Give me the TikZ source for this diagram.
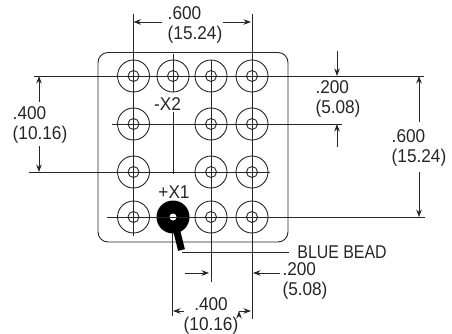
\documentclass[tikz,border=0pt]{standalone}
\usepackage{fontspec}
\setmainfont{Liberation Sans}
\usetikzlibrary{arrows.meta}

\tikzset{
    hole/.style={circle, draw, minimum size=32pt, inner sep=0pt},
    bore/.style={circle, draw, minimum size=11pt, inner sep=0pt},
    dimtext/.style={inner sep=0pt, xscale=0.93, align=left, font=\fontsize{18.5}{20}\selectfont},
    marktext/.style={inner sep=0pt, xscale=0.93, font=\fontsize{18.5}{20}\selectfont},
    leader/.style={draw, line width=0.8pt},
    dimarrow/.style={draw, line width=0.8pt, -{Stealth[length=7.5pt,width=5.5pt]}}
}

\begin{document}
\begin{tikzpicture}[x=1pt,y=-1pt,line width=0.9pt,color=black!85]

        \useasboundingbox (0,0) rectangle (452,334);

        \draw[rounded corners=10pt] (98,52.5) rectangle (288,242);

        % holes
        \foreach \name/\px/\py in {aa/133.5/76, ab/173/76, ac/211/76, ad/252/76,
                                   ba/133.5/124, bc/211/124, bd/252/124,
                                   ca/133.5/172, cc/211/172, cd/252/172,
                                   da/133.5/217, dc/211/217, dd/252/217}{
            \node[hole] (\name) at (\px,\py) {};
            \node[bore] (\name b) at (\px,\py) {};
        }

        % bead
        \node[circle, fill=black, minimum size=33pt, inner sep=0pt] (bead) at (173,217) {};
        \node[circle, fill=white, minimum size=7pt, inner sep=0pt] (beadb) at (173,217) {};

        % leader ends
        \coordinate (r1l) at (34,76);     \coordinate (r1r) at (424,76);
        \coordinate (r2l) at (112,124);   \coordinate (r2r) at (342,124);
        \coordinate (r3l) at (29,172);    \coordinate (r3r) at (270,172);
        \coordinate (r4l) at (107,217);   \coordinate (r4r) at (425,217);
        \coordinate (c1t) at (133.5,14);  \coordinate (c1b) at (133.5,236);
        \coordinate (c2t) at (173,54);    \coordinate (c2b) at (173,92);
        \coordinate (c3t) at (211,60);    \coordinate (c3b) at (211,282);
        \coordinate (c4t) at (252,14);    \coordinate (c4b) at (252,319);
        \coordinate (x2t) at (173,112);   \coordinate (x2b) at (173,174);
        \coordinate (btm) at (172.3,232); \coordinate (bbm) at (172.3,316);
        \coordinate (wa) at (177,232);    \coordinate (wb) at (181.5,250);
        \coordinate (wc) at (182,252.5);  \coordinate (wd) at (289,252.5);

        \path[leader]
        (r1l) -- (r1r)
        (r2l) -- (r2r)
        (r3l) -- (r3r)
        (r4l) -- (r4r)
        (c1t) -- (c1b)
        (c2t) -- (c2b)
        (c3t) -- (c3b)
        (c4t) -- (c4b)
        (x2t) -- (x2b)
        (btm) -- (bbm)
        (wc) -- (wd)
        ;
        \draw[line width=7pt, color=black] (wa) -- (wb);

        % labels
        \node[marktext] (xtwo) at (167.5,104) {-X2};
        \node[marktext] (xone) at (174,192) {+X1};
        \node[marktext, xscale=0.925, anchor=west] (blue) at (297,252.5) {BLUE BEAD};

        \node[dimtext] (top) at (195,25) {.600\\(15.24)};
        \node[dimtext] (lft) at (40,125) {.400\\(10.16)};
        \node[dimtext] (rta) at (338,99) {.200\\(5.08)};
        \node[dimtext] (rtb) at (419,148) {.600\\(15.24)};
        \node[dimtext] (bta) at (305,281) {.200\\(5.08)};
        \node[dimtext, align=center] (btb) at (211,316) {.400\\(10.16)};

        % arrows
        \coordinate (ta) at (162,22);  \coordinate (tb) at (133.5,22);
        \coordinate (tc) at (223,22);  \coordinate (td) at (251,22);
        \coordinate (la) at (39,102);  \coordinate (lb) at (39,76);
        \coordinate (lc) at (39,146);  \coordinate (ld) at (39,172);
        \coordinate (ra) at (337,51);  \coordinate (rb) at (337,76);
        \coordinate (rc) at (337,147); \coordinate (rd) at (337,124);
        \coordinate (sa) at (419,122); \coordinate (sb) at (419,76);
        \coordinate (sc) at (419,172); \coordinate (sd) at (419,217);
        \coordinate (ua) at (185,273); \coordinate (ub) at (209,273);
        \coordinate (uc) at (280,273); \coordinate (ud) at (253,273);
        \coordinate (va) at (184,311); \coordinate (vb) at (173,311);
        \coordinate (vc) at (239,311); \coordinate (vd) at (251,311);

        \path[dimarrow]
        (ta) edge (tb)
        (tc) edge (td)
        (la) edge (lb)
        (lc) edge (ld)
        (ra) edge (rb)
        (rc) edge (rd)
        (sa) edge (sb)
        (sc) edge (sd)
        (ua) edge (ub)
        (uc) edge (ud)
        (va) edge (vb)
        (vc) edge (vd)
        ;

    \end{tikzpicture}
\end{document}
